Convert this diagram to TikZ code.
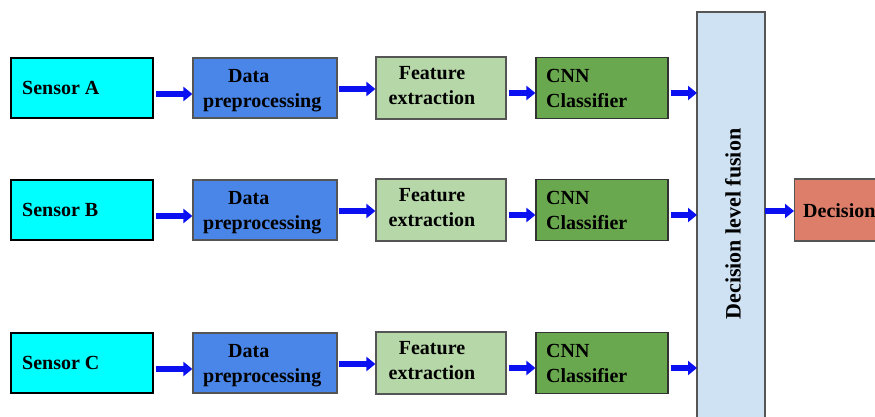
\documentclass[tikz,border=0pt]{standalone}
\usepackage{fontspec}
\setmainfont{Liberation Serif}
\usetikzlibrary{arrows.meta,calc}

\definecolor{sensorfill}{HTML}{00FFFF}
\definecolor{prepfill}{HTML}{4A86E8}
\definecolor{featfill}{HTML}{B6D7A8}
\definecolor{cnnfill}{HTML}{6AA84F}
\definecolor{fusefill}{HTML}{CFE2F3}
\definecolor{decfill}{HTML}{DD7E6B}
\definecolor{arrowblue}{HTML}{0A10F0}
\definecolor{edgegray}{HTML}{555555}

\tikzset{
  blockbox/.style={draw=edgegray, line width=1.2pt, inner sep=0pt,
    font=\fontsize{20}{25}\selectfont\bfseries, text=black},
  sensorbox/.style={blockbox, draw=black, line width=2pt, fill=sensorfill,
    minimum width=142, minimum height=60},
  prepbox/.style={blockbox, fill=prepfill, minimum width=144, minimum height=60},
  featbox/.style={blockbox, fill=featfill, minimum width=130, minimum height=62},
  cnnbox/.style={blockbox, draw=black!80, fill=cnnfill, minimum width=132, minimum height=61},
  boxtext/.style={font=\fontsize{20}{25}\selectfont\bfseries, align=left, inner sep=0pt},
  blockarrow/.style={draw=arrowblue, line width=6.5pt,
    -{Triangle[length=9pt,width=14pt]}},
}

\begin{document}
\begin{tikzpicture}[x=1pt,y=-1pt]
\useasboundingbox (0,0) rectangle (875,417);

% fusion column and final decision box (both run past the page edge)
\draw[blockbox, fill=fusefill] (697,12) rectangle (765,430);
\coordinate (fusew) at (697,200);
\node[rotate=90, boxtext, align=center, font=\fontsize{22}{26}\selectfont\bfseries] (fuse) at (733,224) {Decision level fusion};
\coordinate (fusee) at (765,211);
\node[blockbox, fill=decfill, minimum width=100, minimum height=62, anchor=west] (dec) at (794,210) {};
\node[boxtext, anchor=west] (dectext) at (803,211) {Decision};
\draw[blockarrow] (fusee) -- (dec.west |- fusee);

% three identical sensor chains
\foreach \r/\lab/\y in {a/A/88, b/B/210, c/C/363} {
  \node[sensorbox] (s\r) at (82,\y) {};
  \node[boxtext, anchor=west] at (22,\y) {Sensor \lab};
  \node[prepbox] (p\r) at (265,\y) {};
  \node[boxtext, anchor=west] at (203,\y+3) {\hspace*{25pt}Data\\preprocessing};
  \node[featbox] (f\r) at (441,\y) {};
  \node[boxtext, align=center] at (432,\y-2) {Feature\\extraction};
  \node[cnnbox] (c\r) at (602,\y) {};
  \node[boxtext, anchor=west] at (546,\y) {CNN\\Classifier};
  \draw[blockarrow] ($(s\r.east)+(2,6)$) -- ($(p\r.west)+(0,6)$);
  \draw[blockarrow] ($(p\r.east)+(1,1)$) -- ($(f\r.west)+(0,1)$);
  \draw[blockarrow] ($(f\r.east)+(2,5)$) -- ($(c\r.west)+(0,5)$);
  \draw[blockarrow] ($(c\r.east)+(2,5)$) -- ($(c\r.east -| fusew)+(0,5)$);
}
\end{tikzpicture}
\end{document}
